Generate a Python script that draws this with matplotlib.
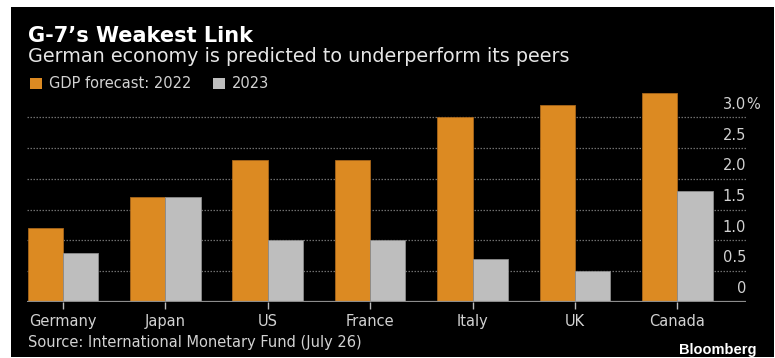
import matplotlib.pyplot as plt
import matplotlib.transforms as mtransforms
from matplotlib.patches import Rectangle, Patch
import numpy as np

plt.rcParams['font.family'] = ['DejaVu Sans']

countries = ['Germany', 'Japan', 'US', 'France', 'Italy', 'UK', 'Canada']
gdp_2022 = [1.2, 1.7, 2.3, 2.3, 3.0, 3.2, 3.4]
gdp_2023 = [0.8, 1.7, 1.0, 1.0, 0.7, 0.5, 1.8]
y_ticks = [0, 0.5, 1.0, 1.5, 2.0, 2.5, 3.0]
y_labels = ['0', '0.5', '1.0', '1.5', '2.0', '2.5', '3.0']

orange = '#DC8A22'
grey = '#BEBEBE'
txt = '#D2D2D2'

fig = plt.figure(figsize=(7.75, 3.58), dpi=100, facecolor='white')
# black panel inside a thin white border
fig.patches.append(Rectangle((11 / 775, 1 - 357 / 358), 763 / 775, 350 / 358,
                             transform=fig.transFigure, facecolor='black',
                             edgecolor='none', zorder=-10))

ax = fig.add_axes([27 / 775, 1 - 301.7 / 358, 719 / 775, 3.5 * 61.4 / 358])
ax.set_facecolor('black')
for s in ax.spines.values():
    s.set_visible(False)

x = np.arange(len(countries))
w = 0.345
ax.bar(x - w / 2, gdp_2022, w, color=orange, edgecolor='#A8661A', linewidth=0.6, zorder=3)
ax.bar(x + w / 2, gdp_2023, w, color=grey, edgecolor='#8C8C8C', linewidth=0.6, zorder=3)

ax.set_xlim(-0.35, 6.67)
ax.set_ylim(0, 3.5)

# gridlines and baseline
for v in y_ticks[1:]:
    ax.axhline(v, color='#6E6E6E', linestyle=(0, (1.2, 1.2)), linewidth=0.9, zorder=1)
ax.axhline(0, color='#8C8C8C', linewidth=1.6, zorder=4)

# y labels sit above their gridlines at the right
trans = mtransforms.blended_transform_factory(ax.transAxes, ax.transData)
trans = mtransforms.offset_copy(trans, fig=fig, x=0, y=13, units='dots')
for v, lab in zip(y_ticks, y_labels):
    ax.text(1.0, v, lab, transform=trans, ha='right', va='center',
            color=txt, fontsize=10.5)
ax.text(1.0, 3.0, '%', transform=trans, ha='left', va='center', color=txt, fontsize=10.5)

ax.set_yticks([])
ax.set_xticks(x)
ax.set_xticklabels(countries, color=txt, fontsize=10.5)
ax.tick_params(axis='x', length=5, width=1, color='#BBBBBB', pad=4)

# titles and legend
fig.text(28 / 775, 1 - 36 / 358, 'G-7\u2019s Weakest Link', color='white',
         fontsize=15, fontweight='bold', va='center', ha='left')
fig.text(28 / 775, 1 - 56.5 / 358, 'German economy is predicted to underperform its peers',
         color='#E6E6E6', fontsize=13.8, va='center', ha='left')

handles = [Patch(facecolor=orange, edgecolor='none', label='GDP forecast: 2022'),
           Patch(facecolor=grey, edgecolor='none', label='2023')]
leg = fig.legend(handles=handles, loc='center left', bbox_to_anchor=(17 / 775, 1 - 84 / 358),
                 ncol=2, frameon=False, fontsize=10.5, handlelength=0.8, handleheight=0.8,
                 handletextpad=0.5, columnspacing=1.5, labelcolor=txt)

fig.text(28 / 775, 1 - 343 / 358, 'Source: International Monetary Fund (July 26)',
         color=txt, fontsize=10.5, va='center', ha='left')
fig.text(756 / 775, 1 - 350 / 358, 'Bloomberg', color='white', fontsize=10.5,
         fontweight='bold', va='center', ha='right', family='Liberation Sans')

fig.savefig('out.png', dpi=100, facecolor='white')
